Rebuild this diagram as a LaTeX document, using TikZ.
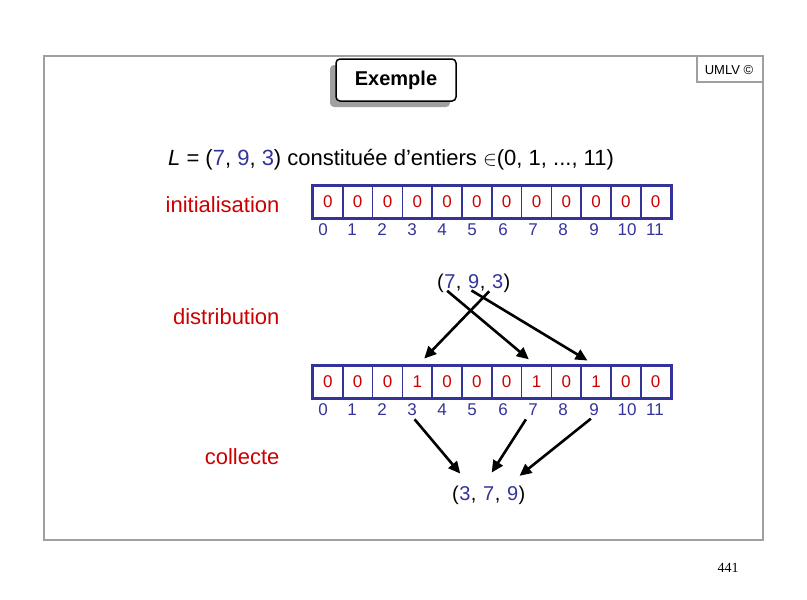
\documentclass[tikz,border=0pt]{standalone}
\usepackage{fontspec}
\setmainfont{Liberation Sans}
\newfontfamily\pagefont{Liberation Serif}
\usetikzlibrary{arrows.meta,positioning,fit,shadows}
\definecolor{umlvblue}{RGB}{51,51,153}
\definecolor{umlvred}{RGB}{204,0,0}
\definecolor{framegray}{RGB}{160,160,160}

\begin{document}
\begin{tikzpicture}[
    x=1pt, y=-1pt,
    framelines/.style={draw=framegray, line width=2pt},
    titlebox/.style={draw=black, line width=1.5pt, fill=white, rounded corners=4pt,
        minimum width=120pt, minimum height=42pt, font=\fontsize{20}{24}\selectfont\bfseries,
        drop shadow={shadow xshift=-6pt, shadow yshift=-6pt, fill=framegray, opacity=1}},
    steplabel/.style={font=\fontsize{22}{26}\selectfont, text=umlvred, anchor=base east},
    cell/.style={draw=umlvblue, line width=1.5pt, minimum width=29.8pt, minimum height=31pt,
        inner sep=0pt, font=\fontsize{17}{19}\selectfont, text=umlvred},
    arraybox/.style={draw=umlvblue, line width=3pt, inner sep=0pt},
    idx/.style={font=\fontsize{17}{19}\selectfont, text=umlvblue, inner sep=0pt},
    tup/.style={font=\fontsize{20}{24}\selectfont, inner sep=0pt, anchor=base west},
    tupnum/.style={tup, text=umlvblue},
    bigarrow/.style={-{Triangle[length=12pt,width=11pt]}, line width=2.6pt, shorten <=4pt, shorten >=10pt},
    collarrow/.style={bigarrow, shorten >=16pt}
]
\useasboundingbox (0,0) rectangle (807,600);

% Slide frame
\draw[framelines] (44,56) rectangle (763,540);
\draw[framelines] (697,56) -- (697,82) -- (763,82);
\node[font=\fontsize{13}{15}\selectfont] (umlv) at (729,70) {UMLV ©};
\node[titlebox] (title) at (396,80) {Exemple};
\node[font=\fontsize{14}{16}\selectfont\pagefont] (page) at (728,568) {441};

% Statement
\node[font=\fontsize{22}{26}\selectfont, anchor=base west, inner sep=0pt] (stmt) at (168,165)
    {\textit{L} = (\textcolor{umlvblue}{7}, \textcolor{umlvblue}{9}, \textcolor{umlvblue}{3}) constitu\'ee d'entiers $\in$(0, 1, ..., 11)};

% Step labels
\node[steplabel] (init) at (283,212) {initialisation};
\node[steplabel] (distr) at (283,324) {distribution};
\node[steplabel] (coll) at (283,464) {collecte};

% First array
\foreach \v [count=\i from 0] in {0,0,0,0,0,0,0,0,0,0,0,0}
    \node[cell] (a\i) at ({327.9+29.8*\i},202) {\v};
\node[arraybox, fit=(a0)(a11)] (arr1) {};
\foreach \x/\n in {323/0, 352/1, 382/2, 412/3, 442/4, 472/5, 503/6, 533/7, 563/8, 594/9, 627/10, 655/11}
    \node[idx] (i\n) at (\x,230) {\n};

% Tuple to distribute
\node[tup] (tl) at (437,288) {(};
\node[tupnum] (t7) at (tl.base east) {7};
\node[tup] (tc1) at (t7.base east) {,\kern6.5pt};
\node[tupnum] (t9) at (tc1.base east) {9};
\node[tup] (tc2) at (t9.base east) {,\kern6.5pt};
\node[tupnum] (t3) at (tc2.base east) {3};
\node[tup] (tr) at (t3.base east) {)};

% Second array
\foreach \v [count=\i from 0] in {0,0,0,1,0,0,0,1,0,1,0,0}
    \node[cell] (b\i) at ({327.9+29.8*\i},382) {\v};
\node[arraybox, fit=(b0)(b11)] (arr2) {};
\foreach \x/\n in {323/0, 352/1, 382/2, 412/3, 442/4, 472/5, 503/6, 533/7, 563/8, 594/9, 627/10, 655/11}
    \node[idx] (j\n) at (\x,410) {\n};

% Distribution arrows
\draw[bigarrow] (t7.south west) -- (b7.north);
\draw[bigarrow] (t9.south west) -- (b9.north);
\draw[bigarrow] (t3.south west) -- (b3.north);

% Result tuple
\node[tup] (rl) at (452,500) {(};
\node[tupnum] (r3) at (rl.base east) {3};
\node[tup] (rc1) at (r3.base east) {,\kern6.5pt};
\node[tupnum] (r7) at (rc1.base east) {7};
\node[tup] (rc2) at (r7.base east) {,\kern6.5pt};
\node[tupnum] (r9) at (rc2.base east) {9};
\node[tup] (rr) at (r9.base east) {)};

% Collection arrows
\draw[collarrow] (j3.south) -- (r3.north east);
\draw[collarrow] (j7.south west) -- (r7.north west);
\draw[collarrow] (j9.south) -- (r9.north west);

\end{tikzpicture}
\end{document}
